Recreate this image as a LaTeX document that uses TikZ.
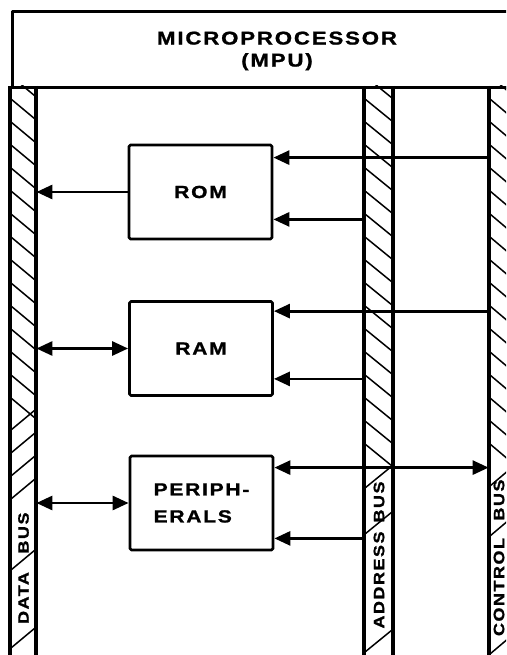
\documentclass[tikz,border=0pt]{standalone}
\usepackage{fontspec}
\usetikzlibrary{arrows.meta}
\newfontfamily\lett[FakeStretch=1.2,LetterSpace=10,FakeBold=1.2]{Liberation Sans Bold}
\begin{document}
\begin{tikzpicture}[x=1pt,y=-1pt,line join=round,
  thick line/.style={line width=2.8pt},
  box/.style={draw,thick line,rounded corners=1.5pt,minimum width=143pt,minimum height=94pt,inner sep=0pt,
     font=\lett\fontsize{17.5}{27}\selectfont},
  busbar/.style={draw,thick line,inner sep=0pt,minimum height=600pt},
  hatch/.style={line width=1.5pt},
  buslabel/.style={rotate=90,inner sep=0pt,font=\lett\fontsize{15}{15}\selectfont},
  conn/.style={thick line},
  tip/.tip={Triangle[length=16pt,width=14pt]}]
\clip (0,0) rectangle (506,655);
\fill[white] (0,0) rectangle (506,655);

% MPU
\node[draw,thick line,minimum width=560pt,minimum height=76pt,inner sep=0pt,anchor=north west] (mpu) at (11,10) {};
\node[font=\lett\fontsize{18.5}{22}\selectfont,align=center] (mputext) at (277,51) {MICROPROCESSOR\\(MPU)};

% buses
\node[busbar,minimum width=24pt,anchor=north] (databus) at (23,86) {};
\node[busbar,minimum width=27pt,anchor=north] (addrbus) at (378.5,86) {};
\node[busbar,minimum width=26pt,anchor=north] (ctrlbus) at (503,86) {};

% hatching: data bus
\begin{scope}
\clip (11,86) rectangle (35,655);
\foreach \y in {76,99,...,400} \draw[hatch] (11,\y) -- (35,\y+20);
\foreach \y in {430,453,...,510} \draw[hatch] (11,\y) -- (35,\y-20);
\foreach \y in {570,648} \draw[hatch] (11,\y) -- (35,\y-20);
\end{scope}
% hatching: address bus
\begin{scope}
\clip (365,86) rectangle (392,655);
\foreach \y in {76,99,...,460} \draw[hatch] (365,\y) -- (392,\y+22);
\foreach \y in {488,534,652} \draw[hatch] (365,\y) -- (392,\y-22);
\end{scope}
% hatching: control bus
\begin{scope}
\clip (490,86) rectangle (516,655);
\foreach \y in {76,99,...,460} \draw[hatch] (490,\y) -- (516,\y+22);
\foreach \y in {486,536,654} \draw[hatch] (490,\y) -- (516,\y-22);
\end{scope}

% bus labels
\node[buslabel] (dataword) at (23.5,598) {DATA};
\node[buslabel] (dbusword) at (23.5,533) {BUS};
\node[buslabel] (addrword) at (379,580) {ADDRESS};
\node[buslabel] (abusword) at (379,502) {BUS};
\node[buslabel] (ctrlword) at (499,587) {CONTROL};
\node[buslabel] (cbusword) at (499,500) {BUS};

% redraw bus outlines on top
\draw[thick line] (databus.north west) -- (databus.south west) (databus.north east) -- (databus.south east);
\draw[thick line] (addrbus.north west) -- (addrbus.south west) (addrbus.north east) -- (addrbus.south east);
\draw[thick line] (ctrlbus.north west) -- (ctrlbus.south west);

% boxes
\node[box] (rom) at (200.5,192) {ROM};
\node[box] (ram) at (201,348.5) {RAM};
\node[box,align=left] (per) at (201.5,503) {PERIPH-\\ERALS};

% connectors
\coordinate (romA) at ([yshift=-14pt]rom.north east);
\coordinate (romB) at ([yshift=21pt]rom.south east);
\coordinate (ramA) at ([yshift=-11pt]ram.north east);
\coordinate (ramB) at ([yshift=18pt]ram.south east);
\coordinate (perA) at ([yshift=-13pt]per.north east);
\coordinate (perB) at ([yshift=13pt]per.south east);

\draw[conn,-tip] (rom.west) -- (rom.west -| databus.east);
\draw[conn,-tip] (romA -| ctrlbus.west) -- (romA);
\draw[conn,-tip] (romB -| addrbus.west) -- (romB);

\draw[conn,tip-tip] (ram.west -| databus.east) -- (ram.west);
\draw[conn,-tip] (ramA -| ctrlbus.west) -- (ramA);
\draw[conn,-tip] (ramB -| addrbus.west) -- (ramB);

\draw[conn,tip-tip] (per.west -| databus.east) -- (per.west);
\draw[conn,tip-tip] (perA) -- (perA -| ctrlbus.west);
\draw[conn,-tip] (perB -| addrbus.west) -- (perB);
\end{tikzpicture}
\end{document}
